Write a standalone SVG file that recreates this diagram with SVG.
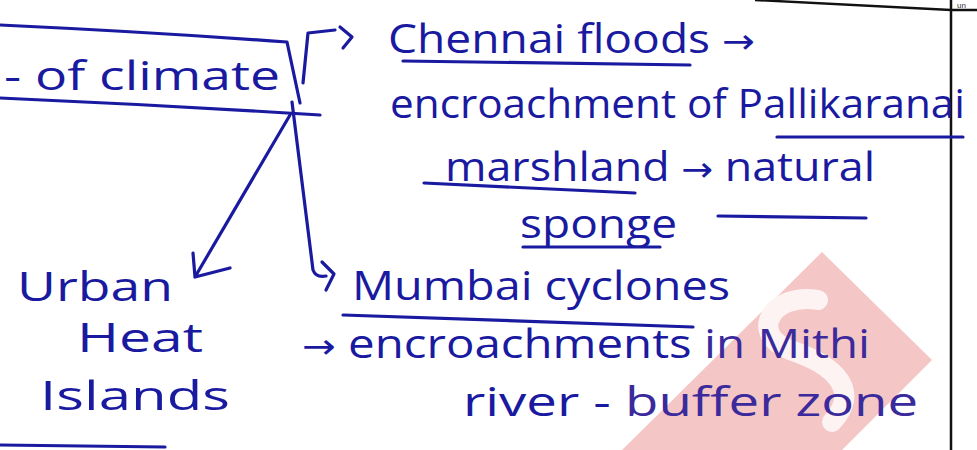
<svg xmlns="http://www.w3.org/2000/svg" width="977" height="450" viewBox="0 0 977 450">
<style>
.t{font-family:"Open Sans","Liberation Sans",sans-serif;font-size:40px;fill:#1a1aa0}
.p{fill:#3b2a9c}
.a{font-family:"DejaVu Sans",sans-serif;font-size:34px}
.ink{fill:none;stroke:#1a1aa0;stroke-width:3.2;stroke-linecap:round;stroke-linejoin:round}
.rule{fill:none;stroke:#111;stroke-width:2.5}
</style>
<rect width="977" height="450" fill="#ffffff"/>
<g id="watermark">
<polygon points="822,252 932,360 840,452 620,452" fill="#f3bcbc" opacity="0.85"/>
<path d="M 818 300 C 772 292, 748 334, 790 350 C 838 366, 860 392, 832 422" fill="none" stroke="#fdf3f3" stroke-width="20" stroke-linecap="round"/>
</g>
<g id="page-rules">
<path class="rule" d="M 755 0 L 951 10 L 977 10 M 951 0 L 951 450"/>
<text x="957" y="8" font-family="Liberation Sans, sans-serif" font-size="8" fill="#333">un</text>
</g>
<g id="climate">
<path class="ink" d="M 0 25 Q 150 32 287 42 L 300 103"/>
<path class="ink" d="M 0 98 Q 160 105 320 115"/>
<text class="t" x="4" y="90" textLength="276" lengthAdjust="spacingAndGlyphs">- of climate</text>
</g>
<g id="chennai">
<text class="t" x="388" y="53" textLength="367" lengthAdjust="spacingAndGlyphs">Chennai floods <tspan class="a">→</tspan></text>
<path class="ink" d="M 403 61 L 690 65"/>
<text class="t" x="390" y="118" textLength="575" lengthAdjust="spacingAndGlyphs">encroachment of Pallikaranai</text>
<path class="ink" d="M 777 137 L 963 137"/>
<text class="t" x="445" y="181" textLength="430" lengthAdjust="spacingAndGlyphs">marshland <tspan class="a">→</tspan> natural</text>
<path class="ink" d="M 424 183 L 635 193"/>
<path class="ink" d="M 718 216 L 866 218"/>
<text class="t" x="520" y="238" textLength="157" lengthAdjust="spacingAndGlyphs">sponge</text>
<path class="ink" d="M 523 247 L 660 247"/>
</g>
<g id="urban-heat-islands">
<text class="t" x="17" y="301" textLength="156" lengthAdjust="spacingAndGlyphs">Urban</text>
<text class="t" x="77" y="352" textLength="126" lengthAdjust="spacingAndGlyphs">Heat</text>
<text class="t" x="40" y="410" textLength="190" lengthAdjust="spacingAndGlyphs">Islands</text>
<path class="ink" d="M 0 445 L 165 447"/>
</g>
<g id="mumbai">
<text class="t" x="352" y="300" textLength="378" lengthAdjust="spacingAndGlyphs">Mumbai cyclones</text>
<path class="ink" d="M 343 315 L 693 327"/>
<text class="t" x="302" y="358" textLength="568" lengthAdjust="spacingAndGlyphs"><tspan class="a">→</tspan> encroachments <tspan class="p">in Mithi</tspan></text>
<text class="t" x="463" y="416" textLength="455" lengthAdjust="spacingAndGlyphs">river - <tspan class="p">buffer zone</tspan></text>
</g>
<g id="connectors">
<path class="ink" d="M 303 83 L 308 33 L 335 30"/>
<path class="ink" d="M 340 27 L 352 37 L 343 48"/>
<path class="ink" d="M 290 115 L 195 277 M 193 253 L 195 277 L 230 268"/>
<path class="ink" d="M 292 102 L 313 270 Q 316 278 326 276"/>
<path class="ink" d="M 322 262 L 334 274 L 326 290"/>
</g>
</svg>
